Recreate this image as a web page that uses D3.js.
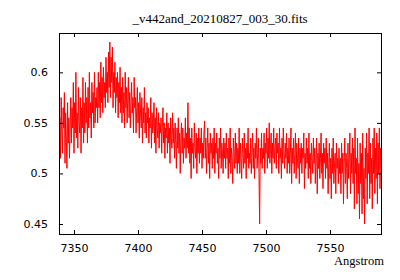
<!DOCTYPE html>
<html>
<head>
<style>
  body { margin: 0; background: #fff; }
</style>
</head>
<body>
<script src="https://d3js.org/d3.v7.min.js"></script>
<script>
const TITLE = "_v442and_20210827_003_30.fits";
const X_LABEL = "Angstrom";
const X_TICKS = [7350, 7400, 7450, 7500, 7550];
const Y_TICKS = [0.45, 0.5, 0.55, 0.6];
const Y_TICK_LABELS = ["0.45", "0.5", "0.55", "0.6"];

// wavelength grid : first sample and step (Angstrom)
const WAVE_START = 7338;
const WAVE_STEP = 0.5;

// flux values, one row = 10 Angstrom
const FLUX = [
  0.57,0.53,0.555,0.515,0.575,0.54,0.52,0.565,0.545,0.58,0.51,0.56,0.535,0.505,0.57,0.53,0.555,0.515,0.545,0.575,
  0.53,0.565,0.545,0.59,0.52,0.57,0.54,0.60,0.535,0.56,0.525,0.585,0.55,0.54,0.575,0.52,0.565,0.545,0.595,0.53,
  0.57,0.54,0.59,0.55,0.575,0.53,0.585,0.545,0.60,0.555,0.57,0.535,0.59,0.56,0.58,0.545,0.60,0.55,0.575,0.565,
  0.585,0.55,0.60,0.565,0.59,0.555,0.61,0.57,0.595,0.56,0.605,0.575,0.59,0.565,0.615,0.58,0.60,0.57,0.62,0.585,
  0.63,0.575,0.615,0.59,0.625,0.565,0.60,0.58,0.61,0.56,0.595,0.575,0.60,0.555,0.59,0.57,0.605,0.56,0.585,0.55,
  0.595,0.56,0.58,0.545,0.60,0.565,0.585,0.55,0.575,0.595,0.555,0.58,0.545,0.57,0.59,0.56,0.575,0.54,0.595,0.565,
  0.575,0.54,0.565,0.585,0.55,0.57,0.535,0.58,0.56,0.545,0.575,0.53,0.565,0.55,0.585,0.54,0.56,0.535,0.57,0.55,
  0.565,0.53,0.555,0.545,0.575,0.525,0.56,0.54,0.55,0.57,0.53,0.555,0.52,0.565,0.545,0.535,0.56,0.525,0.55,0.54,
  0.555,0.52,0.545,0.565,0.53,0.55,0.515,0.545,0.535,0.56,0.52,0.55,0.53,0.545,0.51,0.555,0.535,0.525,0.56,0.53,
  0.545,0.515,0.55,0.53,0.505,0.545,0.525,0.555,0.52,0.54,0.50,0.535,0.55,0.52,0.545,0.51,0.535,0.525,0.555,0.515,
  0.54,0.525,0.57,0.52,0.545,0.51,0.535,0.495,0.545,0.52,0.53,0.505,0.55,0.525,0.515,0.54,0.50,0.535,0.52,0.545,
  0.51,0.535,0.52,0.545,0.505,0.53,0.515,0.54,0.552,0.515,0.535,0.50,0.525,0.545,0.51,0.53,0.495,0.54,0.52,0.53,
  0.505,0.535,0.515,0.545,0.50,0.53,0.52,0.54,0.51,0.525,0.495,0.535,0.515,0.545,0.505,0.53,0.52,0.50,0.535,0.515,
  0.53,0.505,0.54,0.515,0.525,0.495,0.535,0.51,0.545,0.50,0.525,0.515,0.49,0.535,0.52,0.505,0.54,0.51,0.53,0.50,
  0.525,0.51,0.545,0.50,0.53,0.515,0.495,0.535,0.52,0.505,0.54,0.51,0.525,0.495,0.53,0.515,0.545,0.505,0.52,0.51,
  0.535,0.50,0.52,0.54,0.505,0.525,0.495,0.53,0.515,0.545,0.505,0.52,0.535,0.50,0.45,0.525,0.51,0.54,0.505,0.525,
  0.515,0.54,0.50,0.53,0.52,0.545,0.505,0.535,0.515,0.55,0.51,0.525,0.54,0.50,0.53,0.515,0.545,0.51,0.525,0.535,
  0.505,0.54,0.52,0.53,0.50,0.545,0.515,0.525,0.495,0.535,0.51,0.545,0.52,0.505,0.53,0.515,0.54,0.50,0.525,0.51,
  0.535,0.50,0.52,0.545,0.49,0.525,0.51,0.535,0.50,0.52,0.54,0.495,0.53,0.515,0.505,0.535,0.49,0.525,0.51,0.53,
  0.50,0.525,0.515,0.54,0.485,0.52,0.505,0.535,0.51,0.525,0.495,0.54,0.505,0.52,0.49,0.53,0.515,0.50,0.535,0.51,
  0.525,0.49,0.515,0.535,0.48,0.52,0.505,0.53,0.495,0.515,0.54,0.50,0.52,0.485,0.53,0.51,0.525,0.495,0.535,0.505,
  0.52,0.48,0.51,0.53,0.495,0.515,0.475,0.525,0.50,0.535,0.49,0.51,0.52,0.48,0.53,0.505,0.515,0.49,0.525,0.50,
  0.515,0.48,0.53,0.50,0.52,0.47,0.51,0.535,0.49,0.52,0.505,0.475,0.53,0.495,0.515,0.54,0.48,0.52,0.50,0.535,
  0.49,0.525,0.465,0.545,0.50,0.515,0.47,0.535,0.48,0.51,0.455,0.53,0.49,0.52,0.46,0.54,0.475,0.505,0.45,0.525,
  0.495,0.54,0.47,0.52,0.50,0.545,0.475,0.53,0.49,0.515,0.465,0.535,0.50,0.545,0.48,0.525,0.495,0.54,0.47,0.53,
  0.50,0.545,0.485,0.525,0.505
];

const WIDTH = 400, HEIGHT = 280;
const LEFT = 59, RIGHT = 381, TOP = 33, BOTTOM = 234;
const TICK = 4;

const data = FLUX.map((f, i) => ({ w: WAVE_START + i * WAVE_STEP, f: f }));

const svg = d3.select('body').append('svg')
  .attr('width', WIDTH).attr('height', HEIGHT)
  .style('background', '#fff');

const x = d3.scaleLinear().domain([7338.3, 7589.8]).range([LEFT, RIGHT]);
const y = d3.scaleLinear().domain([0.4401, 0.6389]).range([BOTTOM, TOP]);

// spectrum
svg.append('clipPath').attr('id', 'clip')
  .append('rect').attr('x', LEFT).attr('y', TOP)
  .attr('width', RIGHT - LEFT).attr('height', BOTTOM - TOP);

svg.append('path')
  .datum(data)
  .attr('clip-path', 'url(#clip)')
  .attr('fill', 'none')
  .attr('stroke', '#ff0000')
  .attr('stroke-width', 1)
  .attr('d', d3.line().x(d => x(d.w)).y(d => y(d.f)));

// axes, gnuplot style: ticks inside, mirrored
const axisFont = g => g.selectAll('text')
  .attr('font-family', 'DejaVu Sans, sans-serif')
  .attr('font-size', 11)
  .attr('fill', '#000');

const xb = svg.append('g').attr('transform', `translate(0,${BOTTOM})`)
  .call(d3.axisBottom(x).tickValues(X_TICKS).tickSize(-TICK).tickPadding(10).tickFormat(d3.format('d')));
const xt = svg.append('g').attr('transform', `translate(0,${TOP})`)
  .call(d3.axisTop(x).tickValues(X_TICKS).tickSize(-TICK).tickFormat(''));
const yl = svg.append('g').attr('transform', `translate(${LEFT},0)`)
  .call(d3.axisLeft(y).tickValues(Y_TICKS).tickSize(-TICK).tickPadding(11)
    .tickFormat((d, i) => Y_TICK_LABELS[i]));
const yr = svg.append('g').attr('transform', `translate(${RIGHT},0)`)
  .call(d3.axisRight(y).tickValues(Y_TICKS).tickSize(-TICK).tickFormat(''));

[xb, xt, yl, yr].forEach(g => {
  g.select('.domain').remove();
  g.selectAll('line').attr('stroke', '#000');
  axisFont(g);
});

svg.append('rect')
  .attr('x', LEFT).attr('y', TOP)
  .attr('width', RIGHT - LEFT).attr('height', BOTTOM - TOP)
  .attr('fill', 'none').attr('stroke', '#000').attr('stroke-width', 1)
  .attr('shape-rendering', 'crispEdges');

svg.append('text')
  .attr('x', (LEFT + RIGHT) / 2).attr('y', 23)
  .attr('text-anchor', 'middle')
  .attr('font-family', 'Liberation Serif, serif')
  .attr('font-size', 13)
  .text(TITLE);

svg.append('text')
  .attr('x', 384).attr('y', 265)
  .attr('text-anchor', 'end')
  .attr('font-family', 'Liberation Serif, serif')
  .attr('font-size', 12.5)
  .text(X_LABEL);
</script>
</body>
</html>
